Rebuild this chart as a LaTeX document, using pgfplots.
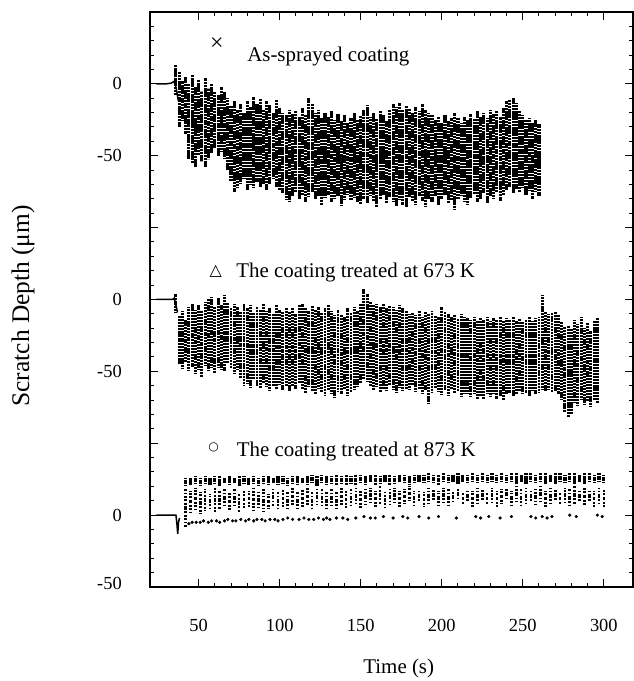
\documentclass[border=0pt]{standalone}
\usepackage{pgfplots}
\pgfplotsset{compat=1.18}
\usepackage{pgfplotstable}
\usepackage{fontspec}
\setmainfont{Liberation Serif}
\newfontfamily\symfont{DejaVu Sans}

% column envelopes (depth in um) of each scatter band
\pgfplotstableread{
x lo hi
36 -8 13
38 -30 8
40 -25 2
42 -35 5
44 -52 0
46 -55 6
48 -58 -2
50 -50 3
52 -54 -5
54 -58 4
56 -52 -3
58 -48 0
60 -45 -5
62 -50 -8
64 -47 -2
66 -52 -6
68 -60 -10
70 -68 -15
72 -75 -12
74 -72 -18
76 -70 -14
78 -66 -20
80 -74 -12
82 -70 -16
84 -72 -9
86 -68 -14
88 -72 -10
90 -70 -18
92 -74 -12
94 -70 -15
96 -66 -20
98 -72 -11
100 -74 -17
102 -76 -20
104 -80 -22
106 -82 -18
108 -78 -21
110 -75 -19
112 -80 -23
114 -77 -17
116 -82 -22
118 -79 -10
120 -75 -14
122 -80 -20
124 -78 -18
126 -84 -24
128 -79 -20
130 -77 -23
132 -82 -19
134 -80 -25
136 -78 -21
138 -84 -26
140 -80 -22
142 -77 -27
144 -81 -24
146 -79 -20
148 -82 -25
150 -84 -22
152 -80 -18
154 -83 -15
156 -78 -23
158 -82 -20
160 -86 -24
162 -80 -19
164 -77 -22
166 -83 -26
168 -79 -18
170 -82 -14
172 -85 -16
174 -80 -13
176 -84 -18
178 -86 -15
180 -79 -17
182 -82 -20
184 -84 -16
186 -78 -19
188 -81 -14
190 -85 -18
192 -80 -20
194 -82 -22
196 -78 -25
198 -84 -23
200 -80 -27
202 -77 -22
204 -83 -26
206 -81 -24
208 -87 -20
210 -80 -24
212 -78 -27
214 -82 -23
216 -84 -25
218 -79 -21
220 -77 -24
222 -82 -19
224 -80 -23
226 -76 -20
228 -83 -24
230 -78 -18
232 -80 -21
234 -75 -19
236 -81 -23
238 -77 -17
240 -74 -12
242 -72 -11
244 -76 -10
246 -73 -13
248 -75 -19
250 -72 -22
252 -77 -25
254 -74 -24
256 -80 -27
258 -75 -25
260 -78 -28
}\assprayed

\pgfplotstableread{
x lo hi
35.5 -9 4
38 -45 -11
40 -48 -8
42 -44 -14
44 -50 -5
46 -47 -3
48 -52 -7
50 -49 -4
52 -54 -8
54 -46 -2
56 -50 0
58 -48 2
60 -51 -5
62 -47 1
64 -49 -4
66 -50 3
68 -45 -2
70 -48 -6
72 -52 -3
74 -49 -5
76 -55 -8
78 -60 -3
80 -58 -6
82 -61 -4
84 -56 -9
86 -60 -5
88 -62 -7
90 -58 -3
92 -61 -8
94 -64 -6
96 -60 -10
98 -62 -4
100 -59 -7
102 -63 -9
104 -61 -5
106 -64 -8
108 -60 -6
110 -62 -10
112 -58 -4
114 -63 -3
116 -65 -6
118 -60 -8
120 -64 -4
122 -66 -7
124 -62 -5
126 -65 -9
128 -67 -6
130 -63 -4
132 -66 -8
134 -68 -11
136 -64 -7
138 -66 -10
140 -62 -12
142 -67 -6
144 -65 -9
146 -63 -5
148 -60 -8
150 -58 -3
152 -55 7
154 -57 4
156 -60 -2
158 -63 -4
160 -61 -3
162 -65 -5
164 -62 -3
166 -64 -6
168 -60 -4
170 -63 -5
172 -65 -7
174 -61 -4
176 -64 -6
178 -62 -8
180 -63 -10
182 -60 -9
184 -64 -11
186 -62 -8
188 -66 -12
190 -63 -9
192 -73 -10
194 -65 -8
196 -62 -11
198 -64 -12
200 -66 -5
202 -63 -9
204 -67 -10
206 -62 -12
208 -65 -11
210 -64 -13
212 -68 -10
214 -66 -12
216 -65 -13
218 -68 -14
220 -66 -12
222 -69 -15
224 -67 -13
226 -70 -14
228 -66 -12
230 -68 -15
232 -65 -13
234 -69 -14
236 -67 -12
238 -70 -15
240 -66 -13
242 -65 -14
244 -67 -12
246 -66 -15
248 -64 -13
250 -66 -16
252 -65 -14
254 -67 -12
256 -64 -15
258 -66 -13
260 -65 -12
262 -63 3
264 -64 -8
266 -63 -10
268 -65 -9
270 -64 -8
272 -66 -10
274 -70 -16
276 -78 -19
278 -82 -18
280 -80 -20
282 -72 -14
284 -74 -17
286 -70 -12
288 -73 -20
290 -71 -16
292 -74 -22
294 -70 -15
296 -72 -13
}\treatedA

% 873 K: upper row (alo..ahi) and middle scatter (blo..bhi)
\pgfplotstableread{
x alo ahi blo bhi
42 20 26 -8 18
45 21 26 2 17
48 22 27 4 19
51 20 26 1 16
54 22 27 3 18
57 21 26 5 15
60 22 27 2 19
63 20 27 4 17
66 22 26 6 18
69 21 27 3 16
72 22 26 5 19
75 20 27 2 15
78 22 27 4 18
81 21 26 6 17
84 22 27 3 19
87 20 26 5 16
90 22 27 2 18
93 21 27 4 15
96 22 26 6 19
99 21 27 3 17
102 22 27 5 18
105 20 26 4 16
108 22 27 7 19
111 21 27 3 17
114 22 26 5 18
117 21 27 6 20
120 22 28 4 16
123 20 27 7 18
126 22 28 5 19
129 21 27 3 17
132 22 27 6 18
135 21 28 4 16
138 22 27 7 19
141 21 28 5 17
144 22 27 6 18
147 21 28 8 19
150 22 28 5 17
153 21 27 7 18
156 23 28 9 19
159 21 28 6 17
162 22 27 8 20
165 23 28 5 16
168 21 28 7 18
171 22 27 9 19
174 23 28 6 17
177 22 28 8 18
180 21 27 10 20
183 22 28 7 17
186 23 28 9 18
189 22 28 6 16
192 23 29 8 19
195 22 28 10 18
198 21 28 7 17
201 23 29 9 19
204 22 28 6 18
207 23 28 8 17
210 22 29 10 19
213 23 28 7 16
216 22 28 9 18
219 23 29 6 17
222 22 28 8 19
225 23 29 10 18
228 22 28 7 16
231 23 29 9 19
234 22 28 6 17
237 23 29 8 18
240 22 28 10 19
243 23 29 7 17
246 22 29 9 20
249 23 28 6 18
252 22 29 8 19
255 23 29 10 17
258 22 28 7 18
261 23 29 9 20
264 22 29 6 17
267 23 28 8 19
270 22 29 10 18
273 23 29 7 16
276 22 28 9 19
279 23 29 6 18
282 22 29 8 20
285 23 28 10 17
288 22 29 7 19
291 23 29 9 18
294 22 28 6 17
297 23 29 8 19
300 22 28 5 18
}\treatedB

\pgfplotsset{
  band/.style={draw=none, mark=none, forget plot,
    error bars/.cd, y dir=both, y explicit, error mark=none,
    error bar style={draw=black, solid, #1}},
}

\begin{document}
\begin{tikzpicture}
\useasboundingbox (-150bp,-94bp) rectangle (484bp,587bp);
\begin{axis}[
    scale only axis,
    width=483bp, height=575bp,
    xmin=20, xmax=318, ymin=0, ymax=400,
    clip=false,
    xtick={50,100,...,300}, minor x tick num=4,
    ytick={0,50,...,400},
    yticklabels={\raisebox{8bp}{-50},0,,-50,0,,-50,0,},
    minor y tick num=4,
    tick align=inside,
    major tick length=8bp, minor tick length=4bp,
    axis line style={line width=1.8bp},
    every tick/.style={black, line width=1bp},
    tick label style={font=\fontsize{18.5}{18.5}\selectfont},
    xticklabel style={anchor=center, yshift=-38bp},
    yticklabel style={anchor=east, inner sep=0pt, xshift=-28bp},
    /pgf/number format/assume math mode=true,
    xlabel={Time (s)},
    ylabel={Scratch Depth (μm)},
    xlabel style={font=\fontsize{21}{21}\selectfont,
      at={(axis description cs:0.515,-0.141)}, anchor=center},
    ylabel style={font=\fontsize{25.5}{25.5}\selectfont,
      at={(axis description cs:-0.263,0.489)}, anchor=center},
]
% as-sprayed coating (offset 350)
\addplot[black, line width=1.5bp, y filter/.expression={y+350}]
  coordinates {(24,0) (30,0) (33,0.5) (34.5,1.5) (35.5,0) (36.5,-5) (37.5,-12)};
\addplot[band={line width=3.1bp, dash pattern=on 2.6bp off 0.6bp}]
  table[x=x, y expr={350+(\thisrow{lo}+\thisrow{hi})/2},
        y error expr={(\thisrow{hi}-\thisrow{lo})/2}] {\assprayed};

% treated at 673 K (offset 200)
\addplot[black, line width=1.5bp, y filter/.expression={y+200}]
  coordinates {(24,0) (34,0) (35,1) (36,-4) (37,-9)};
\addplot[band={line width=2.9bp, dash pattern=on 2.2bp off 0.9bp}]
  table[x=x, y expr={200+(\thisrow{lo}+\thisrow{hi})/2},
        y error expr={(\thisrow{hi}-\thisrow{lo})/2}] {\treatedA};

% treated at 873 K (offset 50)
\addplot[black, line width=1.5bp, y filter/.expression={y+50}]
  coordinates {(24,0) (36,0) (36.6,-6) (37.1,-13) (37.6,-5) (38.2,-2)};
\addplot[band={line width=3.2bp, dash pattern=on 2.2bp off 0.8bp}]
  table[x=x, y expr={50+(\thisrow{alo}+\thisrow{ahi})/2},
        y error expr={(\thisrow{ahi}-\thisrow{alo})/2}] {\treatedB};
\addplot[band={line width=2.6bp, dash pattern=on 1.8bp off 1.6bp}]
  table[x=x, y expr={50+(\thisrow{blo}+\thisrow{bhi})/2},
        y error expr={(\thisrow{bhi}-\thisrow{blo})/2}] {\treatedB};
\addplot[black, only marks, mark=*, mark size=1.4bp, y filter/.expression={y+50}]
  coordinates {(44,-6) (46,-5) (48.5,-5) (51,-5) (53,-4) (56,-5) (58,-4) (61,-4)
    (63,-5) (66,-4) (68,-3) (71,-4) (73,-4) (76,-3) (79,-4) (81,-3) (84,-4)
    (86,-3) (89,-3) (91,-4) (94,-3) (97,-3) (99,-4) (102,-3) (105,-2) (108,-3)
    (112,-3) (115,-2) (118,-3) (121,-3) (124,-2) (127,-3) (129,-2) (131,-3)
    (135,-2) (139,-2) (142,-3) (147,-2) (152,-1) (156,-2) (159,-2) (164,-1)
    (170,-2) (176,-1) (179,-2) (186,-1) (192,-2) (198,-1) (209,-2) (221,-1)
    (224,-2) (229,-1) (236,-2) (243,-1) (255,-1) (258,-2) (262,-1) (265,-2)
    (268,-1) (279,0) (283,-1) (296,0) (299,-1)};

% series labels
\node[font=\fontsize{24}{24}\selectfont] at (axis cs:61.2,377.7) {×};
\node[anchor=base west, inner sep=0pt, font=\fontsize{21}{21}\selectfont]
  at (axis cs:79.9,365.4) {As-sprayed coating};
\node[font=\symfont\fontsize{16}{16}\selectfont] at (axis cs:60.5,219.3) {△};
\node[anchor=base west, inner sep=0pt, font=\fontsize{21}{21}\selectfont]
  at (axis cs:73.1,215.6) {The coating treated at 673 K};
\node[font=\symfont\fontsize{12}{12}\selectfont] at (axis cs:59.3,97.2) {○};
\node[anchor=base west, inner sep=0pt, font=\fontsize{21}{21}\selectfont]
  at (axis cs:73.5,91.1) {The coating treated at 873 K};
\end{axis}
\end{tikzpicture}
\end{document}
